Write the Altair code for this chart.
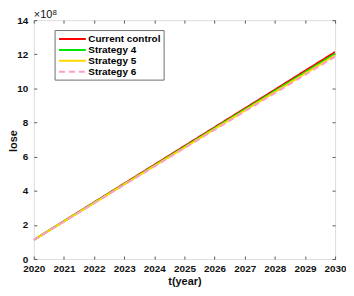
import altair as alt
import pandas as pd

years = [2020, 2021, 2022, 2023, 2024, 2025, 2026, 2027, 2028, 2029, 2030]
current_control = [1.12, 2.22, 3.32, 4.42, 5.52, 6.62, 7.72, 8.82, 9.92, 11.03, 12.13]
strategy4 = [1.12, 2.21, 3.30, 4.39, 5.48, 6.57, 7.67, 8.76, 9.85, 10.94, 12.03]
strategy5 = [1.12, 2.20, 3.28, 4.37, 5.45, 6.53, 7.62, 8.70, 9.78, 10.86, 11.94]
strategy6 = [1.12, 2.19, 3.27, 4.35, 5.42, 6.50, 7.57, 8.65, 9.72, 10.79, 11.86]
y_ticks = [0, 2, 4, 6, 8, 10, 12, 14]

series_names = ["Current control", "Strategy 4", "Strategy 5", "Strategy 6"]
series_values = [current_control, strategy4, strategy5, strategy6]
series_colors = ["#ff0000", "#00e600", "#ffd700", "#ff9ccc"]
series_dash = [[1, 0], [1, 0], [1, 0], [6, 4]]

rows = []
for i, (name, vals) in enumerate(zip(series_names, series_values)):
    for yr, v in zip(years, vals):
        rows.append({"year": yr, "lose": v, "series": name, "order": i})
df = pd.DataFrame(rows)

FONT = "Liberation Sans"
frame = "#a6a6a6"
TXT = "#111111"

xscale = alt.Scale(domain=[2020, 2030], nice=False, zero=False)
yscale = alt.Scale(domain=[0, 14], nice=False)

lines = alt.Chart(df).mark_line(strokeWidth=2, clip=True).encode(
    x=alt.X("year:Q", scale=xscale,
            axis=alt.Axis(title="t(year)", values=years, format="d", orient="bottom",
                          domain=False, tickColor="#555555", tickSize=3, offset=-3,
                          labelPadding=5, labelFont=FONT, labelFontSize=10,
                          labelFontWeight="bold", labelColor=TXT, labelOverlap=False,
                          labelFlush=False,
                          titleFont=FONT, titleFontSize=11, titleFontWeight="bold",
                          titleColor=TXT, titlePadding=2, grid=False)),
    y=alt.Y("lose:Q", scale=yscale,
            axis=alt.Axis(title=None, values=y_ticks, orient="left",
                          domain=False, tickColor="#555555", tickSize=3, offset=-3,
                          labelPadding=6, labelFont=FONT, labelFontSize=10,
                          labelFontWeight="bold", labelColor=TXT, labelOverlap=False,
                          labelFlush=False, grid=False)),
    color=alt.Color("series:N", scale=alt.Scale(domain=series_names, range=series_colors),
                    sort=series_names,
                    legend=alt.Legend(title=None, orient="none", legendX=21, legendY=10,
                                      direction="vertical", symbolType="M-2.7,0L2.7,0",
                                      symbolSize=100, symbolStrokeWidth=2,
                                      symbolFillColor="transparent", symbolOffset=9,
                                      labelFont=FONT, labelFontSize=10,
                                      labelFontWeight="bold", labelColor="#000000",
                                      strokeColor="#6e6e6e", fillColor="white",
                                      padding=3, rowPadding=0, labelOffset=10)),
    strokeDash=alt.StrokeDash("series:N",
                              scale=alt.Scale(domain=series_names, range=series_dash),
                              sort=series_names, legend=None),
    order=alt.Order("order:Q"),
)

# Top/right axes for the mirrored inward ticks
top_right = alt.Chart(df).mark_point(opacity=0).encode(
    x=alt.X("year:Q", scale=xscale,
            axis=alt.Axis(title=None, values=years, orient="top", labels=False,
                          domain=False, tickColor="#555555", tickSize=3, offset=-3,
                          grid=False)),
    y=alt.Y("lose:Q", scale=yscale,
            axis=alt.Axis(title=None, values=y_ticks, orient="right",
                          labels=False, domain=False, tickColor="#555555", tickSize=3,
                          offset=-3, grid=False)),
)

y_title = alt.Chart(pd.DataFrame({"t": ["lose"]})).mark_text(
    font=FONT, fontSize=11, fontWeight="bold", angle=270, align="center",
    baseline="alphabetic", color=TXT
).encode(x=alt.value(-17), y=alt.value(122), text="t:N")

exp_base = alt.Chart(pd.DataFrame({"t": ["×10"]})).mark_text(
    font=FONT, fontSize=11, align="left", baseline="alphabetic", color=TXT
).encode(x=alt.value(0), y=alt.value(-2), text="t:N")
exp_sup = alt.Chart(pd.DataFrame({"t": ["8"]})).mark_text(
    font=FONT, fontSize=8, align="left", baseline="alphabetic", color=TXT
).encode(x=alt.value(19), y=alt.value(-5), text="t:N")

chart = alt.layer(lines, top_right, y_title, exp_base, exp_sup).resolve_axis(
    x="independent", y="independent"
).properties(
    width=304, height=241,
    autosize=alt.AutoSizeParams(type="none"),
    padding={"left": 26, "top": 11, "right": 11, "bottom": 32},
).configure_view(stroke=frame, strokeWidth=1.2).configure(background="white")

chart.save("out.html", embed_options={"renderer": "svg", "actions": False})
